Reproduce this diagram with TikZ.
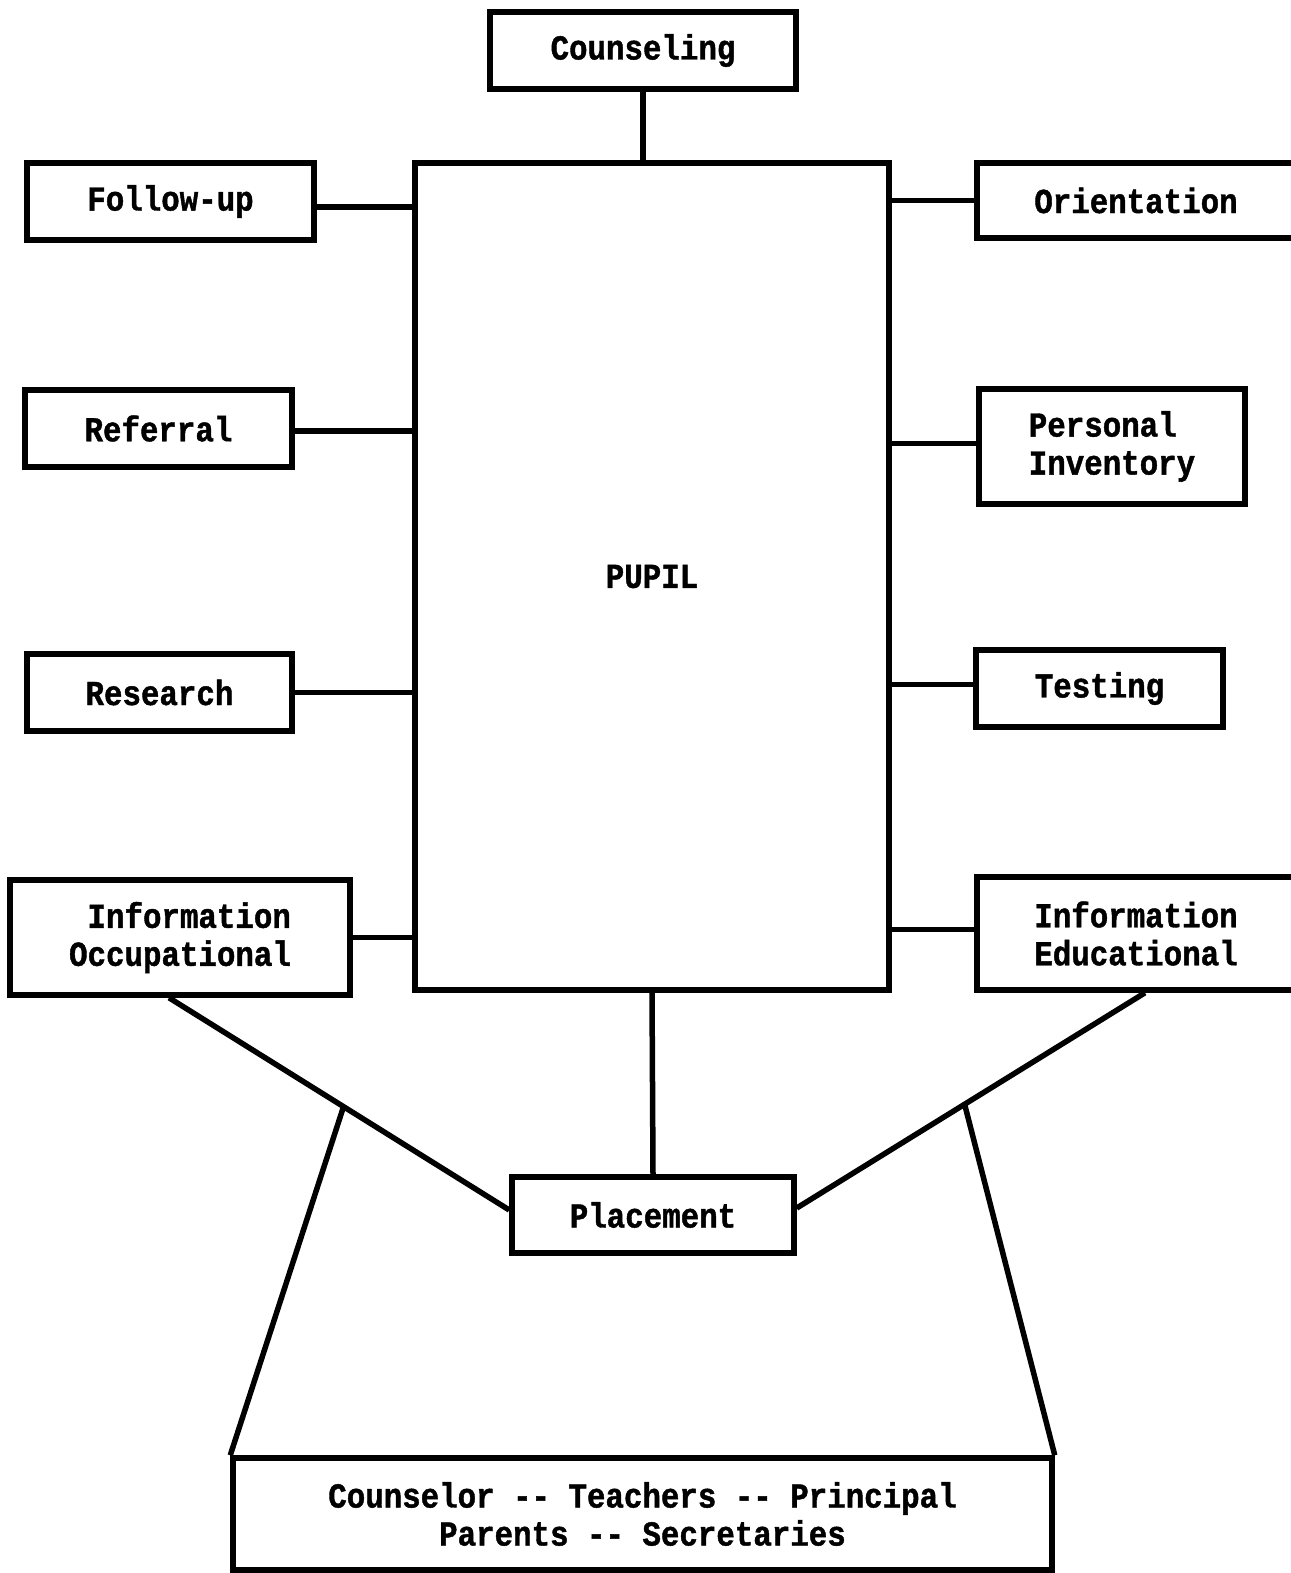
\documentclass[tikz,border=0pt]{standalone}
\usepackage{fontspec}
\newfontfamily\tw{Liberation Mono}[FakeStretch=0.88, BoldFeatures={FakeBold=1.2}]
\tikzset{
  box/.style={draw, line width=5.5pt, inner sep=0pt, align=center,
    font=\tw\bfseries\fontsize{35}{38}\selectfont},
  wire/.style={line width=5.5pt}
}
\begin{document}
\begin{tikzpicture}[x=1pt,y=-1pt]
\useasboundingbox (0,0) rectangle (1290,1573);
\node[box, minimum width=474pt, minimum height=827pt] (pupil) at (652,576.5) {PUPIL};
\node[box, minimum width=306pt, minimum height=77pt] (couns) at (643,50.5) {Counseling};
\node[box, minimum width=287pt, minimum height=77pt] (follow) at (170.5,201.5) {Follow-up};
\node[box, minimum width=267pt, minimum height=77pt] (refer) at (158.5,428.5) {Referral};
\node[box, minimum width=265pt, minimum height=77pt] (research) at (159.5,692.5) {Research};
\node[box, minimum width=340pt, minimum height=115pt, align=right] (occ) at (180,937.5) {Information\\Occupational};
\node[box, minimum width=318pt, minimum height=75pt] (orient) at (1136,200.5) {Orientation};
\node[box, minimum width=266pt, minimum height=115pt, align=left] (pers) at (1112,446.5) {Personal\\Inventory};
\node[box, minimum width=247pt, minimum height=77pt] (test) at (1099.5,688.5) {Testing};
\node[box, minimum width=318pt, minimum height=113pt] (edu) at (1136,933.5) {Information\\Educational};
\node[box, minimum width=282pt, minimum height=76pt] (place) at (653,1215) {Placement};
\node[box, minimum width=819pt, minimum height=112pt] (staff) at (642.5,1514) {Counselor -- Teachers -- Principal\\Parents -- Secretaries};

\draw[wire] (couns.south) -- (couns.south |- pupil.north);
\draw[wire] ([yshift=-5.5pt]follow.east) -- ([yshift=-5.5pt]follow.east -| pupil.west);
\draw[wire] ([yshift=-2.5pt]refer.east) -- ([yshift=-2.5pt]refer.east -| pupil.west);
\draw[wire] (research.east) -- (research.east -| pupil.west);
\draw[wire] (occ.east) -- (occ.east -| pupil.west);
\draw[wire] (orient.west) -- (orient.west -| pupil.east);
\draw[wire] ([yshift=3pt]pers.west) -- ([yshift=3pt]pers.west -| pupil.east);
\draw[wire] ([yshift=4pt]test.west) -- ([yshift=4pt]test.west -| pupil.east);
\draw[wire] ([yshift=4pt]edu.west) -- ([yshift=4pt]edu.west -| pupil.east);
\draw[wire] (pupil.south) -- (place.north);
\draw[wire] ([xshift=-11pt]occ.south) -- ([yshift=5pt]place.west) coordinate[pos=0.513] (lk);
\draw[wire] ([xshift=9pt]edu.south) -- ([yshift=7pt]place.east) coordinate[pos=0.518] (rk);
\draw[wire] (lk) -- (staff.north west);
\draw[wire] (rk) -- (staff.north east);
\end{tikzpicture}
\end{document}
